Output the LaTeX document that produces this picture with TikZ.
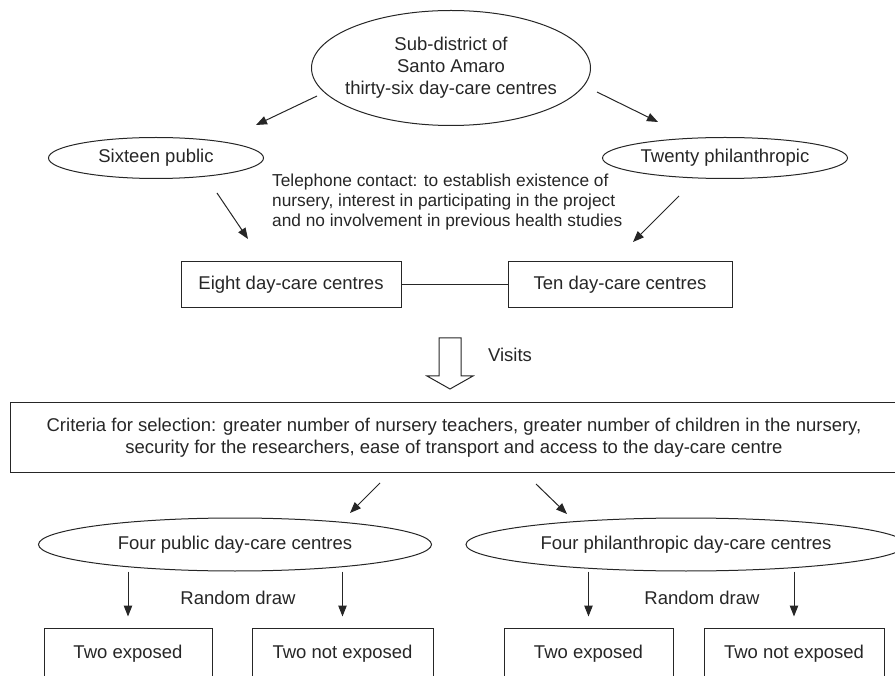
\documentclass[tikz,border=0pt]{standalone}
\usepackage{fontspec}
\setmainfont{Liberation Sans}
\usepackage{tikz}
\usetikzlibrary{shapes.geometric, arrows.meta, positioning}

\tikzset{
    oval/.style={ellipse, draw=black!85, line width=1pt, inner sep=0pt},
    box/.style={rectangle, draw=black!85, line width=1pt, inner sep=0pt},
    txt/.style={text=black!85, font=\fontsize{18.5}{22}\selectfont},
    arr/.style={-{Triangle[length=11pt, width=8.5pt]}, draw=black!85, line width=1pt}
}

\begin{document}
\begin{tikzpicture}[x=1pt, y=-1pt]
    \clip (0,0) rectangle (895,676);

    % Sub-district
    \node[oval, minimum width=279pt, minimum height=115pt] (district) at (451,68) {};
    \node[txt, align=center] (districttxt) at (district) {Sub-district of\\Santo Amaro\\thirty-six day-care centres};

    % Public / philanthropic
    \node[oval, txt, minimum width=215pt, minimum height=41pt] (public) at (156,158) {Sixteen public};
    \node[oval, txt, minimum width=245pt, minimum height=41pt] (philan) at (725,158) {Twenty philanthropic};

    \coordinate (dl1) at (317,96);  \coordinate (dl2) at (256,125);
    \coordinate (dr1) at (597,92);  \coordinate (dr2) at (658,122);
    \draw[arr] (dl1) -- (dl2);
    \draw[arr] (dr1) -- (dr2);

    % Telephone contact
    \node[txt, font=\fontsize{17.3}{20}\selectfont, align=left, anchor=west, inner sep=0pt] (phone) at (272,202)
        {Telephone contact: to establish existence of\\nursery, interest in participating in the project\\and no involvement in previous health studies};

    \coordinate (pl1) at (217,193); \coordinate (pl2) at (248,239);
    \coordinate (pr1) at (679,196); \coordinate (pr2) at (633,242);
    \draw[arr] (pl1) -- (pl2);
    \draw[arr] (pr1) -- (pr2);

    % Day-care centres
    \node[box, txt, minimum width=220pt, minimum height=46pt] (eight) at (291,285) {Eight day-care centres};
    \node[box, txt, minimum width=224pt, minimum height=46pt] (ten) at (620,285) {Ten day-care centres};
    \draw[draw=black!85, line width=1pt] (eight) -- (ten);

    % Visits
    \draw[draw=black!85, line width=1pt, line join=miter]
        (439,338) -- (439,376) -- (427,376) -- (450,389) -- (473,376) -- (461,376) -- (461,338) -- cycle;
    \node[txt] (visits) at (510,355) {Visits};

    % Criteria
    \node[box, txt, align=center, minimum width=888pt, minimum height=69pt] (criteria) at (454,437.5)
        {Criteria for selection: greater number of nursery teachers, greater number of children in the nursery,\\security for the researchers, ease of transport and access to the day-care centre};

    \coordinate (cl1) at (380,483); \coordinate (cl2) at (350,513);
    \coordinate (cr1) at (536,484); \coordinate (cr2) at (567,514);
    \draw[arr] (cl1) -- (cl2);
    \draw[arr] (cr1) -- (cr2);

    % Four centres
    \node[oval, txt, minimum width=393pt, minimum height=53pt] (fourpub) at (235,544.5) {Four public day-care centres};
    \node[oval, txt, minimum width=440pt, minimum height=53pt] (fourphil) at (686,544.5) {Four philanthropic day-care centres};

    \node[txt] (drawl) at (238,598) {Random draw};
    \node[txt] (drawr) at (702,598) {Random draw};

    % Exposure groups
    \node[box, txt, minimum width=168pt, minimum height=52pt] (pubexp) at (128,654) {Two exposed};
    \node[box, txt, minimum width=181pt, minimum height=52pt] (pubnot) at (342.5,654) {Two not exposed};
    \node[box, txt, minimum width=169pt, minimum height=52pt] (philexp) at (588.5,654) {Two exposed};
    \node[box, txt, minimum width=180pt, minimum height=52pt] (philnot) at (794,654) {Two not exposed};

    \draw[arr, shorten >=11pt] (pubexp |- fourpub.south) -- (pubexp.north);
    \draw[arr, shorten >=11pt] (pubnot |- fourpub.south) -- (pubnot.north);
    \draw[arr, shorten >=11pt] (philexp |- fourphil.south) -- (philexp.north);
    \draw[arr, shorten >=11pt] (philnot |- fourphil.south) -- (philnot.north);
\end{tikzpicture}
\end{document}
